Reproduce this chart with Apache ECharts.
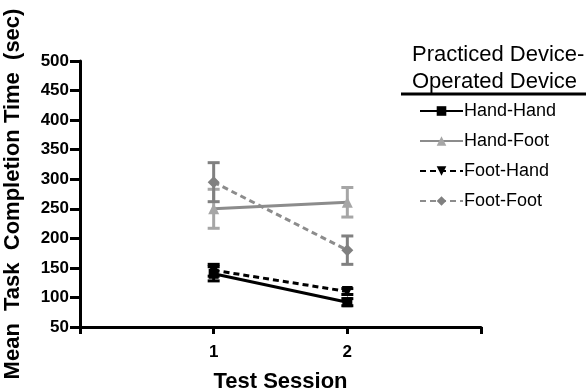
<!DOCTYPE html>
<html><head><meta charset="utf-8">
<script src="https://cdn.jsdelivr.net/npm/echarts@6/dist/echarts.min.js"></script>
<style>html,body{margin:0;padding:0;background:#fff}#c{width:586px;height:392px}</style>
</head><body><div id="c"></div>
<script>
const sessions = [1, 2];
const handHand = [140, 92];
const handHandErr = [12, 6];
const handFoot = [250, 261];
const handFootErr = [33, 25];
const footHand = [146, 110];
const footHandErr = [10, 5];
const footFoot = [295, 180];
const footFootErr = [33, 24];
const yTicks = [50, 100, 150, 200, 250, 300, 350, 400, 450, 500];
const xTickLabels = ['', '1', '2', ''];

const FONT = 'Liberation Sans, Arial, sans-serif';
const chart = echarts.init(document.getElementById('c'), null, {renderer: 'canvas'});

function pts(vals) { return sessions.map((s, i) => [s, vals[i]]); }
function errData(vals, errs) { return sessions.map((s, i) => [s, vals[i] - errs[i], vals[i] + errs[i]]); }
function errSeries(name, vals, errs, color) {
  return {
    type: 'custom', name: name + '_err', z: 3,
    renderItem: function (params, api) {
      const x = api.value(0);
      const lo = api.coord([x, api.value(1)]);
      const hi = api.coord([x, api.value(2)]);
      const w = 6;
      const st = {stroke: color, lineWidth: 3};
      return {type: 'group', children: [
        {type: 'line', shape: {x1: lo[0], y1: lo[1], x2: hi[0], y2: hi[1]}, style: st},
        {type: 'line', shape: {x1: lo[0] - w, y1: lo[1], x2: lo[0] + w, y2: lo[1]}, style: st},
        {type: 'line', shape: {x1: hi[0] - w, y1: hi[1], x2: hi[0] + w, y2: hi[1]}, style: st}
      ]};
    },
    data: errData(vals, errs)
  };
}

const option = {
  animation: false,
  grid: {left: 80, right: 105, top: 61, bottom: 65, containLabel: false, outerBoundsMode: 'none'},
  xAxis: {
    type: 'value', min: 0, max: 3, interval: 1,
    name: 'Test Session', nameLocation: 'middle', nameGap: 44,
    nameTextStyle: {fontFamily: FONT, fontWeight: 'bold', fontSize: 22, color: '#000'},
    axisLine: {lineStyle: {color: '#000', width: 3}},
    axisTick: {show: true, length: 7, lineStyle: {color: '#000', width: 3}},
    axisLabel: {fontFamily: FONT, fontWeight: 'bold', fontSize: 17, color: '#000', margin: 17,
      formatter: function (v) { return xTickLabels[v] || ''; }},
    splitLine: {show: false}
  },
  yAxis: {
    type: 'value', min: yTicks[0], max: yTicks[yTicks.length - 1], interval: 50,
    name: 'Mean  Task  Completion Time  (sec)', nameLocation: 'middle', nameGap: 56,
    nameTextStyle: {fontFamily: FONT, fontWeight: 'bold', fontSize: 22, color: '#000'},
    axisLine: {show: true, lineStyle: {color: '#000', width: 3}},
    axisTick: {show: true, length: 10, lineStyle: {color: '#000', width: 3}},
    axisLabel: {fontFamily: FONT, fontWeight: 'bold', fontSize: 17, color: '#000', margin: 11},
    splitLine: {show: false}
  },
  legend: {
    orient: 'vertical', left: 414, top: 97, itemGap: 12, itemWidth: 43, itemHeight: 12,
    data: ['Hand-Hand', 'Hand-Foot', 'Foot-Hand', 'Foot-Foot'],
    textStyle: {fontFamily: FONT, fontSize: 18, color: '#000', padding: [0, 0, 0, -4]}
  },
  graphic: [
    {type: 'text', x: 412, y: 55, style: {text: 'Practiced Device-', font: '22px ' + FONT, fill: '#000', verticalAlign: 'middle'}},
    {type: 'text', x: 412, y: 82, style: {text: 'Operated Device', font: '22px ' + FONT, fill: '#000', verticalAlign: 'middle'}},
    {type: 'line', shape: {x1: 401, y1: 94, x2: 586, y2: 94}, style: {stroke: '#000', lineWidth: 3}}
  ],
  series: [
    errSeries('Hand-Foot', handFoot, handFootErr, '#a6a6a6'),
    errSeries('Foot-Foot', footFoot, footFootErr, '#808080'),
    errSeries('Hand-Hand', handHand, handHandErr, '#000'),
    errSeries('Foot-Hand', footHand, footHandErr, '#000'),
    {name: 'Hand-Hand', type: 'line', data: pts(handHand), symbol: 'rect', symbolSize: 10,
      lineStyle: {color: '#000', width: 3}, itemStyle: {color: '#000'}, z: 5},
    {name: 'Hand-Foot', type: 'line', data: pts(handFoot), symbol: 'triangle', symbolSize: 11,
      lineStyle: {color: '#8c8c8c', width: 3}, itemStyle: {color: '#a6a6a6'}, z: 4},
    {name: 'Foot-Hand', type: 'line', data: pts(footHand), symbol: 'triangle', symbolRotate: 180, symbolSize: 11,
      lineStyle: {color: '#000', width: 3, type: [6, 4]}, itemStyle: {color: '#000'}, z: 5},
    {name: 'Foot-Foot', type: 'line', data: pts(footFoot), symbol: 'diamond', symbolSize: 12,
      lineStyle: {color: '#8c8c8c', width: 3, type: [6, 4]}, itemStyle: {color: '#808080'}, z: 4}
  ]
};
chart.setOption(option);
</script></body></html>
